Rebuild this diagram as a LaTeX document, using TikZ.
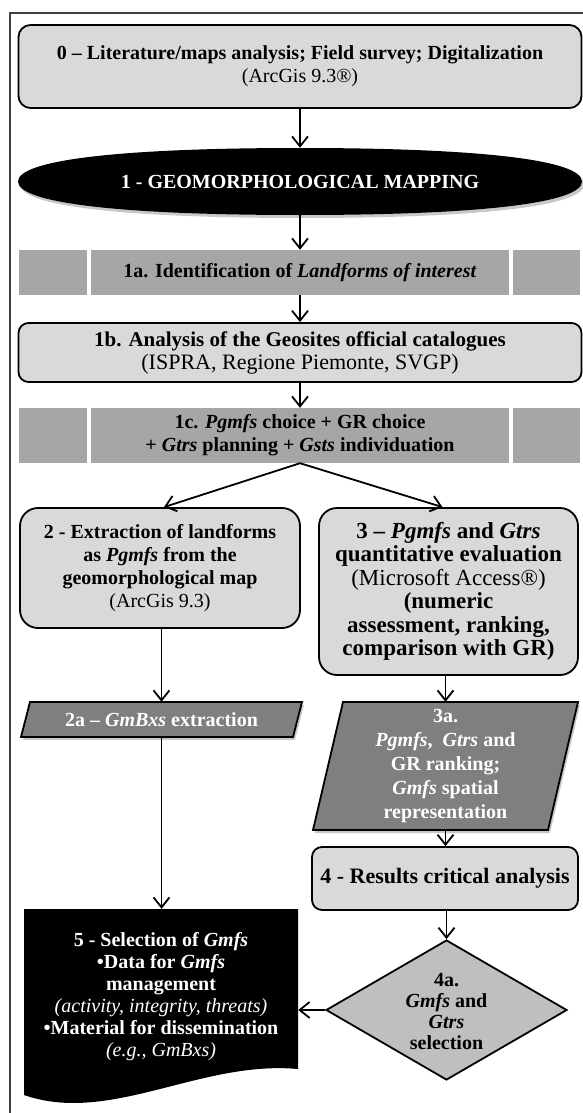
\documentclass[tikz,border=0pt]{standalone}
\usepackage{fontspec}
\setmainfont{Liberation Serif}
\usetikzlibrary{arrows.meta,shapes.geometric}
\definecolor{boxgray}{HTML}{D9D9D9}
\definecolor{bargray}{HTML}{A6A6A6}
\definecolor{pargray}{HTML}{7F7F7F}
\definecolor{diagray}{HTML}{BFBFBF}
\definecolor{framegray}{HTML}{404040}
\definecolor{shadowgray}{HTML}{C8C8C8}
\begin{document}
\begin{tikzpicture}[x=1pt,y=-1pt,
  txt/.style={font=\fontsize{20}{23}\selectfont\bfseries, align=center, inner sep=0pt},
  rbox/.style={txt, draw=black, line width=1.8pt, fill=boxgray, rounded corners=#1},
  rbox/.default=12pt,
  barbox/.style={txt, fill=bargray},
  parbox/.style={draw=black, line width=1.8pt, fill=pargray},
  shade/.style={fill=shadowgray, shift={(2,3)}},
  arr/.style={line width=1.8pt, -{Straight Barb[length=10pt,width=16pt]}},
  ]
\useasboundingbox (0,0) rectangle (583,1113);
% frame
\draw[framegray, line width=1.2pt] (10,1113) -- (10,13) -- (583,13);

% 0
\node[rbox, minimum width=563pt, minimum height=83pt] (n0) at (300,66.5)
  {0 – Literature/maps analysis; Field survey; Digitalization\\ \mdseries (ArcGis 9.3®)};

% 1 ellipse
\fill[shade] (18,181.5) .. controls (18,160) and (120,148) .. (300,148)
  .. controls (480,148) and (582,160) .. (582,181.5)
  .. controls (582,203) and (480,215) .. (300,215)
  .. controls (120,215) and (18,203) .. (18,181.5) -- cycle;
\fill[black] (18,181.5) .. controls (18,160) and (120,148) .. (300,148)
  .. controls (480,148) and (582,160) .. (582,181.5)
  .. controls (582,203) and (480,215) .. (300,215)
  .. controls (120,215) and (18,203) .. (18,181.5) -- cycle;
\node[txt, text=white, minimum width=564pt, minimum height=67pt] (n1) at (300,181.5)
  {1 - GEOMORPHOLOGICAL MAPPING};

% 1a
\node[barbox, minimum width=68pt, minimum height=45pt] (b1al) at (53,272.5) {};
\node[barbox, minimum width=418pt, minimum height=45pt] (n1a) at (300,272.5)
  {1a. Identification of \textit{Landforms of interest}};
\node[barbox, minimum width=67pt, minimum height=45pt] (b1ar) at (546.5,272.5) {};

% 1b
\node[rbox=10pt, font=\fontsize{21}{23}\selectfont\bfseries, minimum width=563pt, minimum height=59pt] (n1b) at (300,352.5)
  {1b. Analysis of the Geosites official catalogues\\ \mdseries\fontsize{22}{23}\selectfont (ISPRA, Regione Piemonte, SVGP)};

% 1c
\node[barbox, minimum width=68pt, minimum height=55pt] (b1cl) at (53,435.5) {};
\node[barbox, minimum width=418pt, minimum height=55pt] (n1c) at (300,435.5)
  {1c. \textit{Pgmfs} choice + GR choice\\ + \textit{Gtrs} planning + \textit{Gsts} individuation};
\node[barbox, minimum width=67pt, minimum height=55pt] (b1cr) at (546.5,435.5) {};

% 2
\node[rbox=18pt, minimum width=280pt, minimum height=120pt] (n2) at (160,568)
  {2 - Extraction of landforms\\ as \textit{Pgmfs} from the\\ geomorphological map\\ {\mdseries (ArcGis 9.3)}};

% 3
\node[rbox=18pt, font=\fontsize{23}{23.5}\selectfont\bfseries, minimum width=259pt, minimum height=167pt] (n3) at (448.5,591.5)
  {3 – \textit{Pgmfs} and \textit{Gtrs}\\ quantitative evaluation\\ {\mdseries (Microsoft Access®)}\\ (numeric\\ assessment, ranking,\\ comparison with GR)};

% 2a
\fill[shade] (30,702) -- (302,702) -- (293,737) -- (21,737) -- cycle;
\draw[parbox] (30,702) -- (302,702) -- (293,737) -- (21,737) -- cycle;
\node[txt, text=white, minimum width=272pt, minimum height=35pt] (n2a) at (161.5,719.5)
  {2a – \textit{GmBxs} extraction};

% 3a
\fill[shade] (343,702) -- (578,702) -- (548,830) -- (313,830) -- cycle;
\draw[parbox] (343,702) -- (578,702) -- (548,830) -- (313,830) -- cycle;
\node[txt, text=white, font=\fontsize{20}{24}\selectfont\bfseries, minimum width=235pt, minimum height=128pt] (n3a) at (445.5,766)
  {3a.\\ \textit{Pgmfs}, \ \textit{Gtrs} and\\ GR ranking;\\ \textit{Gmfs} spatial\\ representation};

% 4
\node[rbox=10pt, font=\fontsize{22}{23}\selectfont\bfseries, minimum width=266pt, minimum height=63pt] (n4) at (445,878.5)
  {4 - Results critical analysis};

% 4a
\node[diamond, draw=black, line width=1.8pt, fill=diagray, minimum width=241pt, minimum height=140pt, inner sep=0pt] (n4a) at (446.5,1010) {};
\node[txt, font=\fontsize{20}{21}\selectfont\bfseries] (t4a) at (446.5,1011.5)
  {4a.\\ \textit{Gmfs} and\\ \textit{Gtrs}\\ selection};

% 5
\fill[black] (24,909) -- (298,909) -- (298,1069) .. controls (200,1060) and (110,1125) .. (24,1095) -- cycle;
\node[txt, text=white, font=\fontsize{20}{22}\selectfont\bfseries, minimum width=274pt, minimum height=176pt] (n5) at (161,997)
  {5 - Selection of \textit{Gmfs}\\ •Data for \textit{Gmfs}\\ management\\ {\mdseries\itshape (activity, integrity, threats)}\\ •Material for dissemination\\ {\mdseries\itshape (e.g., GmBxs)}};

% connectors
\draw[arr] (n0.south) -- (n1.north);
\draw[arr] (n1.south) -- (n1a.north);
\draw[arr] (n1a.south) -- (n1b.north);
\draw[arr] (n1b.south) -- (n1c.north);
\draw[arr] (n1c.south) -- ([xshift=4pt]n2.north);
\draw[arr] (n1c.south) -- ([xshift=-6pt]n3.north);
\draw[arr] (n2.south -| n2a) -- (n2a.north);
\draw[arr] (n2a.south) -- (n2a.south |- n5.north);
\draw[arr] (n3.south -| n3a) -- (n3a.north);
\draw[arr] (n3a.south) -- (n3a.south |- n4.north);
\draw[arr] (n4.south -| n4a) -- (n4a.north);
\draw[arr] (n4a.west) -- (n4a.west -| n5.east);
\end{tikzpicture}
\end{document}
